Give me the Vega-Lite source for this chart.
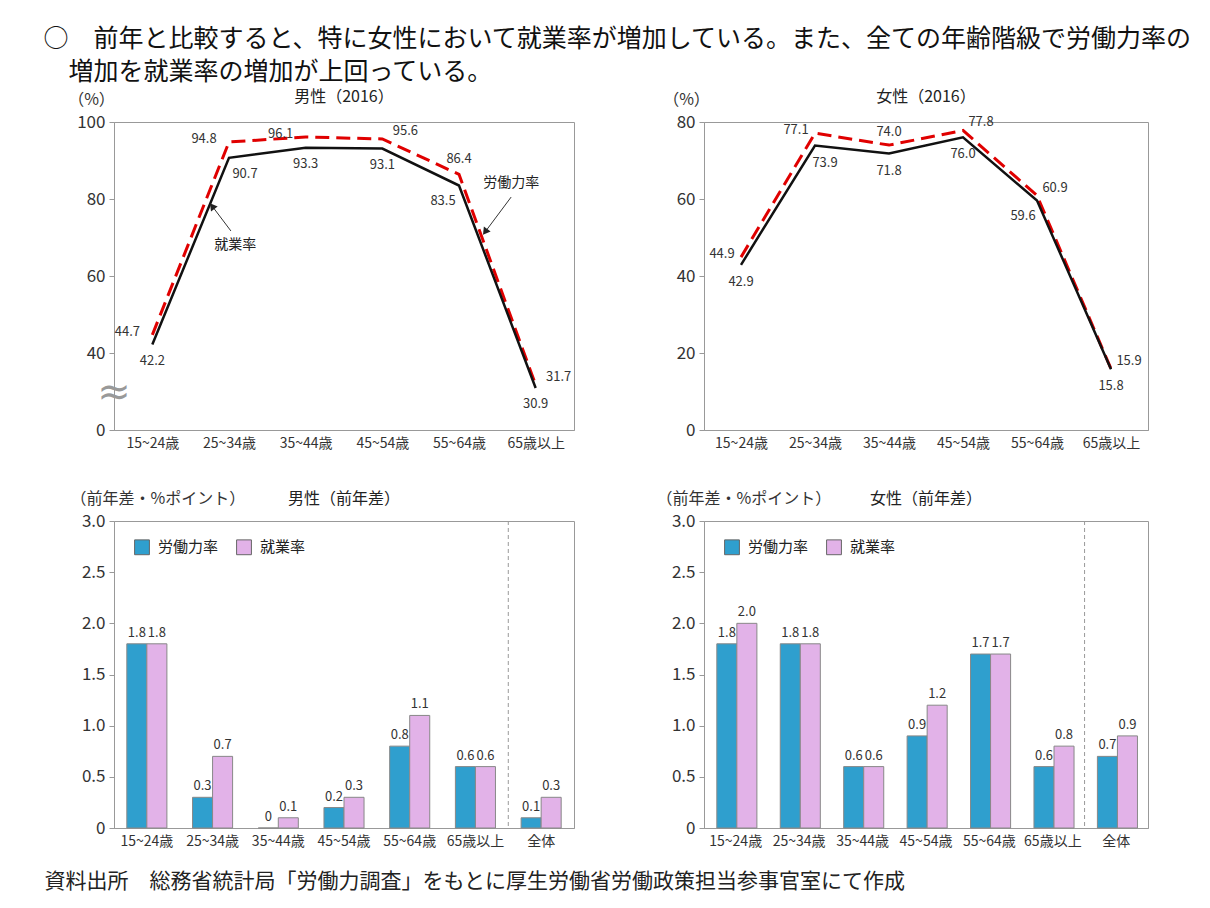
{
  "$schema": "https://vega.github.io/schema/vega-lite/v6.json",
  "padding": {"left": 43, "top": 26, "right": 5, "bottom": 5},
  "background": "white",
  "config": {
    "font": "Noto Sans CJK JP",
    "view": {"stroke": "#999", "strokeWidth": 1},
    "axis": {"grid": false, "domainColor": "#999", "tickColor": "#999", "labelColor": "#333", "titleColor": "#333", "titleFontWeight": "normal"},
    "axisX": {"ticks": false, "labelFontSize": 14, "labelPadding": 6, "labelAngle": 0},
    "axisY": {"labelFontSize": 17, "tickSize": 5, "labelPadding": 4},
    "title": {"fontWeight": "normal", "color": "#222"}
  },
  "title": {
    "text": ["○　前年と比較すると、特に女性において就業率が増加している。また、全ての年齢階級で労働力率の", "\u200b\u3000増加を就業率の増加が上回っている。"],
    "anchor": "start", "frame": "bounds", "fontSize": 25, "lineHeight": 33, "offset": 4, "color": "#111"
  },
  "datasets": {
    "rates": [
      {"sex": "男性", "series": "労働力率", "age": "15~24歳", "value": 44.7},
      {"sex": "男性", "series": "労働力率", "age": "25~34歳", "value": 94.8},
      {"sex": "男性", "series": "労働力率", "age": "35~44歳", "value": 96.1},
      {"sex": "男性", "series": "労働力率", "age": "45~54歳", "value": 95.6},
      {"sex": "男性", "series": "労働力率", "age": "55~64歳", "value": 86.4},
      {"sex": "男性", "series": "労働力率", "age": "65歳以上", "value": 31.7},
      {"sex": "男性", "series": "就業率", "age": "15~24歳", "value": 42.2},
      {"sex": "男性", "series": "就業率", "age": "25~34歳", "value": 90.7},
      {"sex": "男性", "series": "就業率", "age": "35~44歳", "value": 93.3},
      {"sex": "男性", "series": "就業率", "age": "45~54歳", "value": 93.1},
      {"sex": "男性", "series": "就業率", "age": "55~64歳", "value": 83.5},
      {"sex": "男性", "series": "就業率", "age": "65歳以上", "value": 30.9},
      {"sex": "女性", "series": "労働力率", "age": "15~24歳", "value": 44.9},
      {"sex": "女性", "series": "労働力率", "age": "25~34歳", "value": 77.1},
      {"sex": "女性", "series": "労働力率", "age": "35~44歳", "value": 74.0},
      {"sex": "女性", "series": "労働力率", "age": "45~54歳", "value": 77.8},
      {"sex": "女性", "series": "労働力率", "age": "55~64歳", "value": 60.9},
      {"sex": "女性", "series": "労働力率", "age": "65歳以上", "value": 15.9},
      {"sex": "女性", "series": "就業率", "age": "15~24歳", "value": 42.9},
      {"sex": "女性", "series": "就業率", "age": "25~34歳", "value": 73.9},
      {"sex": "女性", "series": "就業率", "age": "35~44歳", "value": 71.8},
      {"sex": "女性", "series": "就業率", "age": "45~54歳", "value": 76.0},
      {"sex": "女性", "series": "就業率", "age": "55~64歳", "value": 59.6},
      {"sex": "女性", "series": "就業率", "age": "65歳以上", "value": 15.8}
    ],
    "diff": [
      {"sex": "男性", "series": "労働力率", "age": "15~24歳", "value": 1.8},
      {"sex": "男性", "series": "労働力率", "age": "25~34歳", "value": 0.3},
      {"sex": "男性", "series": "労働力率", "age": "35~44歳", "value": 0},
      {"sex": "男性", "series": "労働力率", "age": "45~54歳", "value": 0.2},
      {"sex": "男性", "series": "労働力率", "age": "55~64歳", "value": 0.8},
      {"sex": "男性", "series": "労働力率", "age": "65歳以上", "value": 0.6},
      {"sex": "男性", "series": "労働力率", "age": "全体", "value": 0.1},
      {"sex": "男性", "series": "就業率", "age": "15~24歳", "value": 1.8},
      {"sex": "男性", "series": "就業率", "age": "25~34歳", "value": 0.7},
      {"sex": "男性", "series": "就業率", "age": "35~44歳", "value": 0.1},
      {"sex": "男性", "series": "就業率", "age": "45~54歳", "value": 0.3},
      {"sex": "男性", "series": "就業率", "age": "55~64歳", "value": 1.1},
      {"sex": "男性", "series": "就業率", "age": "65歳以上", "value": 0.6},
      {"sex": "男性", "series": "就業率", "age": "全体", "value": 0.3},
      {"sex": "女性", "series": "労働力率", "age": "15~24歳", "value": 1.8},
      {"sex": "女性", "series": "労働力率", "age": "25~34歳", "value": 1.8},
      {"sex": "女性", "series": "労働力率", "age": "35~44歳", "value": 0.6},
      {"sex": "女性", "series": "労働力率", "age": "45~54歳", "value": 0.9},
      {"sex": "女性", "series": "労働力率", "age": "55~64歳", "value": 1.7},
      {"sex": "女性", "series": "労働力率", "age": "65歳以上", "value": 0.6},
      {"sex": "女性", "series": "労働力率", "age": "全体", "value": 0.7},
      {"sex": "女性", "series": "就業率", "age": "15~24歳", "value": 2.0},
      {"sex": "女性", "series": "就業率", "age": "25~34歳", "value": 1.8},
      {"sex": "女性", "series": "就業率", "age": "35~44歳", "value": 0.6},
      {"sex": "女性", "series": "就業率", "age": "45~54歳", "value": 1.2},
      {"sex": "女性", "series": "就業率", "age": "55~64歳", "value": 1.7},
      {"sex": "女性", "series": "就業率", "age": "65歳以上", "value": 0.8},
      {"sex": "女性", "series": "就業率", "age": "全体", "value": 0.9}
    ],
    "notes": [
      {"kind": "label", "ax": 1.08, "value": 68, "label": "就業率"},
      {"kind": "label", "ax": 4.68, "value": 84.2, "label": "労働力率"},
      {"kind": "arrow", "ax": 1.025, "value": 71.7, "ax2": 0.79, "value2": 77.9, "label": "就業率"},
      {"kind": "arrow", "ax": 4.68, "value": 80.5, "ax2": 4.35, "value2": 71.7, "label": "労働力率"},
      {"kind": "break", "ax": -0.5, "value": 29.6, "label": "≈"}
    ]
  },
  "columns": 2,
  "spacing": {"column": 130, "row": 91},
  "bounds": "flush",
  "resolve": {"scale": {"color": "independent"}},
  "concat": [
    {
      "width": 460, "height": 308,
      "title": {"text": "男性（2016）", "fontSize": 16, "offset": -14},
      "layer": [
        {
          "data": {"name": "rates"},
          "transform": [{"filter": "datum.sex == '男性'"}],
          "encoding": {
            "x": {"field": "age", "type": "ordinal", "sort": ["15~24歳", "25~34歳", "35~44歳", "45~54歳", "55~64歳", "65歳以上"], "scale": {"type": "point", "padding": 0.5}, "axis": {"title": null}},
            "y": {"field": "value", "type": "quantitative", "scale": {"domain": [20, 100], "nice": false, "zero": false},
                  "axis": {"values": [20, 40, 60, 80, 100], "labelExpr": "datum.value == 20 ? '0' : datum.label", "title": "（%）", "titleAngle": 0, "titleX": -23, "titleY": -23, "titleAlign": "center", "titleBaseline": "middle", "titleFontSize": 16}}
          },
          "layer": [
            {"transform": [{"filter": "datum.series == '労働力率'"}], "mark": {"type": "line", "color": "#e00000", "strokeWidth": 3, "strokeDash": [14, 7]}},
            {"transform": [{"filter": "datum.series == '就業率'"}], "mark": {"type": "line", "color": "#111", "strokeWidth": 2.5}},
            {"transform": [{"filter": "datum.series == '就業率' && indexof(['15~24歳','35~44歳','45~54歳','65歳以上'], datum.age) >= 0"}], "mark": {"type": "text", "dy": 16, "fontSize": 13, "color": "#333"}, "encoding": {"text": {"field": "value", "type": "quantitative", "format": ".1f"}}},
            {"transform": [{"filter": "datum.series == '就業率' && datum.age == '25~34歳'"}], "mark": {"type": "text", "dx": 16, "dy": 16, "fontSize": 13, "color": "#333"}, "encoding": {"text": {"field": "value", "type": "quantitative", "format": ".1f"}}},
            {"transform": [{"filter": "datum.series == '就業率' && datum.age == '55~64歳'"}], "mark": {"type": "text", "dx": -16, "dy": 15, "fontSize": 13, "color": "#333"}, "encoding": {"text": {"field": "value", "type": "quantitative", "format": ".1f"}}},
            {"transform": [{"filter": "datum.series == '労働力率' && indexof(['15~24歳','25~34歳','35~44歳'], datum.age) >= 0"}], "mark": {"type": "text", "dx": -25, "dy": -3, "fontSize": 13, "color": "#333"}, "encoding": {"text": {"field": "value", "type": "quantitative", "format": ".1f"}}},
            {"transform": [{"filter": "datum.series == '労働力率' && indexof(['45~54歳','65歳以上'], datum.age) >= 0"}], "mark": {"type": "text", "dx": 23, "dy": -8, "fontSize": 13, "color": "#333"}, "encoding": {"text": {"field": "value", "type": "quantitative", "format": ".1f"}}},
            {"transform": [{"filter": "datum.series == '労働力率' && datum.age == '55~64歳'"}], "mark": {"type": "text", "dy": -15, "fontSize": 13, "color": "#333"}, "encoding": {"text": {"field": "value", "type": "quantitative", "format": ".1f"}}}
          ]
        },
        {
          "data": {"name": "notes"},
          "encoding": {
            "x": {"field": "ax", "type": "quantitative", "scale": {"domain": [-0.5, 5.5], "nice": false, "zero": false}, "axis": null},
            "y": {"field": "value", "type": "quantitative", "scale": {"domain": [20, 100], "nice": false, "zero": false}, "axis": null}
          },
          "layer": [
            {"transform": [{"filter": "datum.kind == 'label'"}], "mark": {"type": "text", "fontSize": 14, "color": "#222"}, "encoding": {"text": {"field": "label"}}},
            {"transform": [{"filter": "datum.kind == 'break'"}], "mark": {"type": "text", "fontSize": 40, "font": "DejaVu Sans", "color": "#999"}, "encoding": {"text": {"field": "label"}}},
            {"transform": [{"filter": "datum.kind == 'arrow'"}], "mark": {"type": "rule", "color": "#333", "strokeWidth": 1}, "encoding": {"x2": {"field": "ax2"}, "y2": {"field": "value2"}}},
            {"transform": [{"filter": "datum.kind == 'arrow' && datum.label == '就業率'"}], "mark": {"type": "point", "shape": "triangle", "angle": 323, "size": 70, "filled": true, "color": "#222", "opacity": 1}, "encoding": {"x": {"field": "ax2", "type": "quantitative"}, "y": {"field": "value2", "type": "quantitative"}}},
            {"transform": [{"filter": "datum.kind == 'arrow' && datum.label == '労働力率'"}], "mark": {"type": "point", "shape": "triangle", "angle": 216, "size": 70, "filled": true, "color": "#222", "opacity": 1}, "encoding": {"x": {"field": "ax2", "type": "quantitative"}, "y": {"field": "value2", "type": "quantitative"}}}
          ]
        }
      ],
      "resolve": {"scale": {"x": "independent"}, "axis": {"y": "independent"}}
    },
    {
      "width": 444, "height": 308,
      "title": {"text": "女性（2016）", "fontSize": 16, "offset": -14},
      "data": {"name": "rates"},
      "transform": [{"filter": "datum.sex == '女性'"}],
      "encoding": {
        "x": {"field": "age", "type": "ordinal", "sort": ["15~24歳", "25~34歳", "35~44歳", "45~54歳", "55~64歳", "65歳以上"], "scale": {"type": "point", "padding": 0.5}, "axis": {"title": null}},
        "y": {"field": "value", "type": "quantitative", "scale": {"domain": [0, 80], "nice": false},
              "axis": {"values": [0, 20, 40, 60, 80], "title": "（%）", "titleAngle": 0, "titleX": -18, "titleY": -23, "titleAlign": "center", "titleBaseline": "middle", "titleFontSize": 16}}
      },
      "layer": [
        {"transform": [{"filter": "datum.series == '労働力率'"}], "mark": {"type": "line", "color": "#e00000", "strokeWidth": 3, "strokeDash": [14, 7]}},
        {"transform": [{"filter": "datum.series == '就業率'"}], "mark": {"type": "line", "color": "#111", "strokeWidth": 2.5}},
        {"transform": [{"filter": "datum.series == '就業率' && indexof(['15~24歳','35~44歳','45~54歳','65歳以上'], datum.age) >= 0"}], "mark": {"type": "text", "dy": 17, "fontSize": 13, "color": "#333"}, "encoding": {"text": {"field": "value", "type": "quantitative", "format": ".1f"}}},
        {"transform": [{"filter": "datum.series == '就業率' && datum.age == '25~34歳'"}], "mark": {"type": "text", "dx": 10, "dy": 18, "fontSize": 13, "color": "#333"}, "encoding": {"text": {"field": "value", "type": "quantitative", "format": ".1f"}}},
        {"transform": [{"filter": "datum.series == '就業率' && datum.age == '55~64歳'"}], "mark": {"type": "text", "dx": -14, "dy": 15, "fontSize": 13, "color": "#333"}, "encoding": {"text": {"field": "value", "type": "quantitative", "format": ".1f"}}},
        {"transform": [{"filter": "datum.series == '労働力率' && indexof(['15~24歳','25~34歳'], datum.age) >= 0"}], "mark": {"type": "text", "dx": -19, "dy": -3, "fontSize": 13, "color": "#333"}, "encoding": {"text": {"field": "value", "type": "quantitative", "format": ".1f"}}},
        {"transform": [{"filter": "datum.series == '労働力率' && datum.age == '35~44歳'"}], "mark": {"type": "text", "dy": -13, "fontSize": 13, "color": "#333"}, "encoding": {"text": {"field": "value", "type": "quantitative", "format": ".1f"}}},
        {"transform": [{"filter": "datum.series == '労働力率' && indexof(['45~54歳','55~64歳','65歳以上'], datum.age) >= 0"}], "mark": {"type": "text", "dx": 18, "dy": -8, "fontSize": 13, "color": "#333"}, "encoding": {"text": {"field": "value", "type": "quantitative", "format": ".1f"}}}
      ]
    },
    {
      "width": 460, "height": 307,
      "title": {"text": "男性（前年差）", "fontSize": 16, "offset": -17},
      "data": {"name": "diff"},
      "transform": [{"filter": "datum.sex == '男性'"}],
      "encoding": {
        "x": {"field": "age", "type": "nominal", "sort": ["15~24歳", "25~34歳", "35~44歳", "45~54歳", "55~64歳", "65歳以上", "全体"], "scale": {"paddingInner": 0, "paddingOuter": 0},
              "axis": {"title": "資料出所　総務省統計局「労働力調査」をもとに厚生労働省労働政策担当参事官室にて作成", "titleX": -70, "titleY": 53, "titleAlign": "left", "titleBaseline": "middle", "titleFontSize": 21, "titleColor": "#222"}}
      },
      "layer": [
        {"mark": {"type": "bar", "stroke": "#888", "strokeWidth": 1},
         "encoding": {
           "xOffset": {"field": "series", "sort": ["労働力率", "就業率"], "scale": {"paddingOuter": 0.64, "paddingInner": 0}},
           "y": {"field": "value", "type": "quantitative", "scale": {"domain": [0, 3], "nice": false},
                 "axis": {"values": [0, 0.5, 1, 1.5, 2, 2.5, 3], "labelExpr": "datum.value == 0 ? '0' : format(datum.value, '.1f')", "title": "（前年差・%ポイント）", "titleAngle": 0, "titleX": -44, "titleY": -23, "titleAlign": "left", "titleBaseline": "middle", "titleFontSize": 16}},
           "color": {"field": "series", "type": "nominal", "scale": {"domain": ["労働力率", "就業率"], "range": ["#2f9fce", "#e2b2e8"]},
                     "legend": {"title": null, "orient": "none", "legendX": 20, "legendY": 18, "direction": "horizontal", "symbolType": "square", "symbolSize": 220, "symbolStrokeColor": "#666", "symbolStrokeWidth": 1, "symbolOpacity": 1, "labelFontSize": 15, "labelColor": "#222", "columnPadding": 15, "labelOffset": 8}}
         }},
        {"mark": {"type": "text", "dy": -11, "fontSize": 13, "color": "#333"},
         "encoding": {
           "xOffset": {"field": "series", "sort": ["労働力率", "就業率"], "scale": {"paddingOuter": 0.64, "paddingInner": 0}},
           "y": {"field": "value", "type": "quantitative"},
           "text": {"condition": {"test": "datum.value == 0", "value": "0"}, "field": "value", "type": "quantitative", "format": ".1f"}
         }},
        {"transform": [{"filter": "datum.age == '全体' && datum.series == '労働力率'"}],
         "mark": {"type": "rule", "color": "#999", "strokeDash": [4, 3], "strokeWidth": 1},
         "encoding": {"x": {"field": "age", "type": "nominal", "sort": ["15~24歳", "25~34歳", "35~44歳", "45~54歳", "55~64歳", "65歳以上", "全体"], "bandPosition": 0,
              "axis": {"title": "資料出所　総務省統計局「労働力調査」をもとに厚生労働省労働政策担当参事官室にて作成", "titleX": -70, "titleY": 53, "titleAlign": "left", "titleBaseline": "middle", "titleFontSize": 21, "titleColor": "#222"}}}}
      ]
    },
    {
      "width": 444, "height": 307,
      "title": {"text": "女性（前年差）", "fontSize": 16, "offset": -17},
      "data": {"name": "diff"},
      "transform": [{"filter": "datum.sex == '女性'"}],
      "encoding": {
        "x": {"field": "age", "type": "nominal", "sort": ["15~24歳", "25~34歳", "35~44歳", "45~54歳", "55~64歳", "65歳以上", "全体"], "scale": {"paddingInner": 0, "paddingOuter": 0}, "axis": {"title": null}}
      },
      "layer": [
        {"mark": {"type": "bar", "stroke": "#888", "strokeWidth": 1},
         "encoding": {
           "xOffset": {"field": "series", "sort": ["労働力率", "就業率"], "scale": {"paddingOuter": 0.64, "paddingInner": 0}},
           "y": {"field": "value", "type": "quantitative", "scale": {"domain": [0, 3], "nice": false},
                 "axis": {"values": [0, 0.5, 1, 1.5, 2, 2.5, 3], "labelExpr": "datum.value == 0 ? '0' : format(datum.value, '.1f')", "title": "（前年差・%ポイント）", "titleAngle": 0, "titleX": -48, "titleY": -23, "titleAlign": "left", "titleBaseline": "middle", "titleFontSize": 16}},
           "color": {"field": "series", "type": "nominal", "scale": {"domain": ["労働力率", "就業率"], "range": ["#2f9fce", "#e2b2e8"]},
                     "legend": {"title": null, "orient": "none", "legendX": 20, "legendY": 18, "direction": "horizontal", "symbolType": "square", "symbolSize": 220, "symbolStrokeColor": "#666", "symbolStrokeWidth": 1, "symbolOpacity": 1, "labelFontSize": 15, "labelColor": "#222", "columnPadding": 15, "labelOffset": 8}}
         }},
        {"mark": {"type": "text", "dy": -11, "fontSize": 13, "color": "#333"},
         "encoding": {
           "xOffset": {"field": "series", "sort": ["労働力率", "就業率"], "scale": {"paddingOuter": 0.64, "paddingInner": 0}},
           "y": {"field": "value", "type": "quantitative"},
           "text": {"condition": {"test": "datum.value == 0", "value": "0"}, "field": "value", "type": "quantitative", "format": ".1f"}
         }},
        {"transform": [{"filter": "datum.age == '全体' && datum.series == '労働力率'"}],
         "mark": {"type": "rule", "color": "#999", "strokeDash": [4, 3], "strokeWidth": 1},
         "encoding": {"x": {"field": "age", "type": "nominal", "sort": ["15~24歳", "25~34歳", "35~44歳", "45~54歳", "55~64歳", "65歳以上", "全体"], "bandPosition": 0, "axis": {"title": null}}}}
      ]
    }
  ]
}
